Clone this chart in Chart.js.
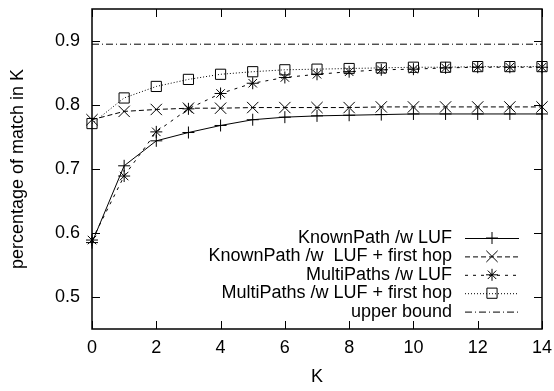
<!DOCTYPE html>
<html>
<head>
<meta charset="utf-8">
<script src="https://cdn.jsdelivr.net/npm/chart.js@4"></script>
<style>
  html, body { margin: 0; padding: 0; background: #fff; }
  #c { display: block; }
</style>
</head>
<body>
<canvas id="c" width="554" height="391"></canvas>
<script>
// K values on the x axis
const kValues = [0, 1, 2, 3, 4, 5, 6, 7, 8, 9, 10, 11, 12, 13, 14];

// Series values (fraction of matches in K)
const knownPathLuf      = [0.585, 0.705, 0.744, 0.757, 0.768, 0.777, 0.781, 0.783, 0.784, 0.785, 0.786, 0.786, 0.786, 0.786, 0.786];
const knownPathFirstHop = [0.777, 0.790, 0.793, 0.795, 0.795, 0.796, 0.796, 0.796, 0.796, 0.797, 0.797, 0.797, 0.797, 0.797, 0.797];
const multiPathsLuf     = [0.589, 0.689, 0.758, 0.794, 0.818, 0.834, 0.843, 0.848, 0.852, 0.855, 0.856, 0.858, 0.859, 0.859, 0.859];
const multiPathsFirstHop= [0.771, 0.811, 0.829, 0.840, 0.848, 0.852, 0.855, 0.856, 0.857, 0.858, 0.859, 0.859, 0.860, 0.860, 0.860];
const upperBoundValue   = 0.895;
const upperBoundRange   = [0, 14];

// Axis ticks
const xTicks = [0, 2, 4, 6, 8, 10, 12, 14];
const yTicks = [0.5, 0.6, 0.7, 0.8, 0.9];

const seriesLabels = [
  'KnownPath /w LUF',
  'KnownPath /w  LUF + first hop',
  'MultiPaths /w LUF',
  'MultiPaths /w LUF + first hop',
  'upper bound'
];

const FONT = "'Liberation Sans', Arial, sans-serif";

function pts(values) {
  return kValues.map((k, i) => ({ x: k, y: values[i] }));
}

const base = {
  borderColor: '#000',
  backgroundColor: 'rgba(0,0,0,0)',
  borderWidth: 1,
  pointBorderWidth: 1,
  pointBorderColor: '#000',
  pointBackgroundColor: 'rgba(0,0,0,0)',
  tension: 0,
  clip: false
};

const datasets = [
  Object.assign({}, base, { label: seriesLabels[0], data: pts(knownPathLuf), borderDash: [], pointStyle: 'cross', pointRadius: 6 }),
  Object.assign({}, base, { label: seriesLabels[1], data: pts(knownPathFirstHop), borderDash: [5, 3], pointStyle: 'crossRot', pointRadius: 8 }),
  Object.assign({}, base, { label: seriesLabels[2], data: pts(multiPathsLuf), borderDash: [3, 5], pointStyle: 'star', pointRadius: 6 }),
  Object.assign({}, base, { label: seriesLabels[3], data: pts(multiPathsFirstHop), borderDash: [1, 2], pointStyle: 'rect', pointRadius: 7.2 }),
  Object.assign({}, base, { label: seriesLabels[4], data: upperBoundRange.map(k => ({ x: k, y: upperBoundValue })), borderDash: [7, 3, 1, 3], pointStyle: false, pointRadius: 0 })
];

// Frame with inward ticks on all four sides
const framePlugin = {
  id: 'frame',
  afterDraw(chart) {
    const { ctx, chartArea: a, scales } = chart;
    ctx.save();
    ctx.strokeStyle = '#000';
    ctx.lineWidth = 1.5;
    ctx.setLineDash([]);
    ctx.strokeRect(a.left, a.top, a.right - a.left, a.bottom - a.top);
    ctx.lineWidth = 1;
    const len = 8;
    ctx.beginPath();
    xTicks.forEach(v => {
      const x = Math.round(scales.x.getPixelForValue(v)) + 0.5;
      ctx.moveTo(x, a.bottom); ctx.lineTo(x, a.bottom - len);
      ctx.moveTo(x, a.top); ctx.lineTo(x, a.top + len);
    });
    yTicks.forEach(v => {
      const y = Math.round(scales.y.getPixelForValue(v)) + 0.5;
      ctx.moveTo(a.left, y); ctx.lineTo(a.left + len, y);
      ctx.moveTo(a.right, y); ctx.lineTo(a.right - len, y);
    });
    ctx.stroke();
    ctx.restore();
  }
};

// Key in the lower right: right-aligned text followed by a line sample with its marker
const keyPlugin = {
  id: 'key',
  afterDraw(chart) {
    const { ctx } = chart;
    const textRight = 452;
    const lineStart = 465, lineEnd = 519;
    const firstRow = 238, rowGap = 18.4;
    ctx.save();
    ctx.font = '18px ' + FONT;
    ctx.fillStyle = '#000';
    ctx.textAlign = 'right';
    ctx.textBaseline = 'middle';
    chart.data.datasets.forEach((ds, i) => {
      const y = firstRow + i * rowGap;
      ctx.fillText(ds.label, textRight, y);
      ctx.strokeStyle = ds.borderColor;
      ctx.lineWidth = ds.borderWidth;
      ctx.setLineDash(ds.borderDash || []);
      ctx.beginPath();
      ctx.moveTo(lineStart, y + 0.5);
      ctx.lineTo(lineEnd, y + 0.5);
      ctx.stroke();
      ctx.setLineDash([]);
      if (ds.pointStyle) {
        ctx.strokeStyle = ds.pointBorderColor;
        ctx.fillStyle = ds.pointBackgroundColor;
        ctx.lineWidth = ds.pointBorderWidth;
        Chart.helpers.drawPoint(ctx, { pointStyle: ds.pointStyle, radius: ds.pointRadius, rotation: 0, borderWidth: ds.pointBorderWidth }, (lineStart + lineEnd) / 2, y);
        ctx.fillStyle = '#000';
      }
    });
    ctx.restore();
  }
};

new Chart(document.getElementById('c'), {
  type: 'line',
  data: { datasets },
  options: {
    responsive: false,
    animation: false,
    events: [],
    layout: { padding: { top: 5, right: 12, left: 0, bottom: 0 } },
    plugins: { legend: { display: false }, tooltip: { enabled: false } },
    scales: {
      x: {
        type: 'linear',
        min: 0,
        max: 14,
        afterBuildTicks(scale) { scale.ticks = xTicks.map(v => ({ value: v })); },
        afterFit(scale) { scale.height = 62; scale.paddingLeft = 0; scale.paddingRight = 0; },
        grid: { display: false, drawTicks: false },
        border: { display: false },
        ticks: { color: '#000', padding: 8, font: { family: FONT, size: 18 }, maxRotation: 0, autoSkip: false },
        title: { display: true, text: 'K', color: '#000', font: { family: FONT, size: 18 }, padding: { top: 0, bottom: 3 } }
      },
      y: {
        type: 'linear',
        min: 0.45,
        max: 0.95,
        afterBuildTicks(scale) { scale.ticks = yTicks.map(v => ({ value: v })); },
        afterFit(scale) { scale.width = 92; scale.paddingTop = 0; scale.paddingBottom = 0; },
        grid: { display: false, drawTicks: false },
        border: { display: false },
        ticks: { color: '#000', padding: 12, font: { family: FONT, size: 18 }, autoSkip: false,
                 callback: v => v.toFixed(1) },
        title: { display: true, text: 'percentage of match in K', color: '#000', font: { family: FONT, size: 18 }, padding: { top: 7, bottom: 0 } }
      }
    }
  },
  plugins: [framePlugin, keyPlugin]
});
</script>
</body>
</html>
